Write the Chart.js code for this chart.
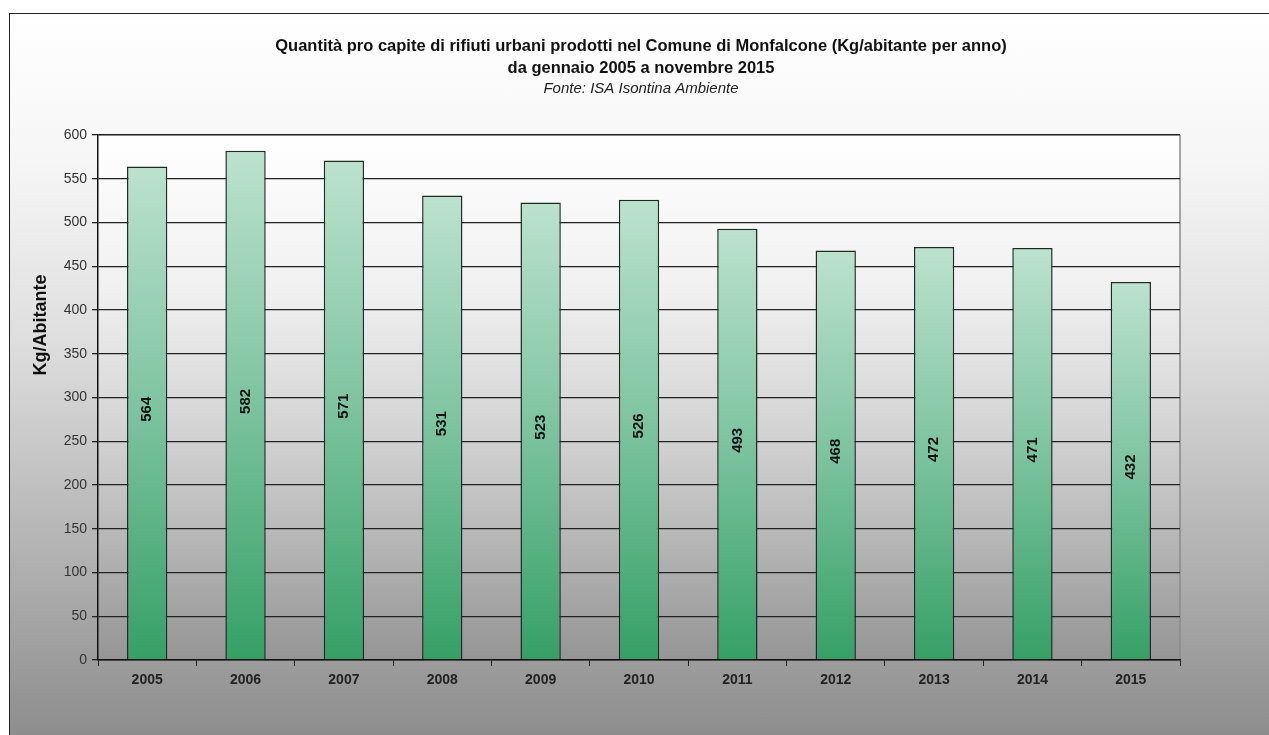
<!DOCTYPE html>
<html><head><meta charset="utf-8">
<script src="https://cdn.jsdelivr.net/npm/chart.js@4.4.1/dist/chart.umd.min.js"></script>
<style>
html,body{margin:0;padding:0;background:#fff;}
#wrap{position:relative;width:1269px;height:735px;overflow:hidden;}
#frame{position:absolute;left:9px;top:13px;width:1270px;height:730px;border:1px solid #222;box-sizing:border-box;
background:linear-gradient(to bottom,#ffffff 0%,#f6f6f6 20%,#dedede 45%,#b8b8b8 70%,#8c8c8c 100%);}
canvas{position:absolute;left:0;top:0;}
</style></head><body>
<div id="wrap"><div id="frame"></div><canvas id="c" width="1269" height="735"></canvas></div>
<script>
const years = ['2005','2006','2007','2008','2009','2010','2011','2012','2013','2014','2015'];
const kgPerInhabitant = [564,582,571,531,523,526,493,468,472,471,432];
const titleLines = ['Quantità pro capite di rifiuti urbani prodotti nel Comune di Monfalcone (Kg/abitante per anno)','da gennaio 2005 a novembre 2015'];
const subtitleText = 'Fonte: ISA Isontina Ambiente';
const yAxisTitle = 'Kg/Abitante';
const FONT = 'Arial, "Liberation Sans", sans-serif';

const plotBg = {
  id:'plotBg',
  beforeDraw(chart){
    const {ctx, chartArea:a} = chart;
    const g = ctx.createLinearGradient(0,a.top,0,a.bottom);
    g.addColorStop(0,'#ffffff'); g.addColorStop(0.3,'#f0f0f0'); g.addColorStop(0.6,'#cfcfcf'); g.addColorStop(1,'#959595');
    ctx.save(); ctx.fillStyle=g; ctx.fillRect(a.left,a.top,a.right-a.left,a.bottom-a.top);
    ctx.strokeStyle='#8a8a8a'; ctx.lineWidth=1.5;
    ctx.beginPath(); ctx.moveTo(a.right,a.top); ctx.lineTo(a.right,a.bottom); ctx.moveTo(a.left,a.top); ctx.lineTo(a.right,a.top); ctx.stroke();
    ctx.restore();
  }
};
const texts = {
  id:'texts',
  afterDatasetsDraw(chart){
    const {ctx} = chart; const meta = chart.getDatasetMeta(0); const ys = chart.scales.y;
    ctx.save(); ctx.fillStyle='#111';
    ctx.textAlign='center'; ctx.textBaseline='middle';
    // titles
    ctx.font='bold 16.5px '+FONT;
    ctx.fillText(titleLines[0],641,46);
    ctx.fillText(titleLines[1],641,68);
    ctx.fillStyle='#222';
    ctx.font='italic 15px '+FONT;
    ctx.fillText(subtitleText,641,89);
    // bar labels
    ctx.fillStyle='#111';
    ctx.font='bold 15px '+FONT;
    meta.data.forEach((bar,i)=>{
      const v = kgPerInhabitant[i];
      ctx.save(); ctx.translate(bar.x, ys.getPixelForValue(v/2)-4); ctx.rotate(-Math.PI/2);
      ctx.fillText(String(v),0,0); ctx.restore();
    });
    // y axis title
    ctx.font='bold 18px '+FONT;
    ctx.translate(41,325); ctx.rotate(-Math.PI/2); ctx.fillText(yAxisTitle,0,0);
    ctx.restore();
  }
};

new Chart(document.getElementById('c'),{
  type:'bar',
  data:{labels:years,datasets:[{
    data:kgPerInhabitant,
    backgroundColor(ctx){
      const ch = ctx.chart; const ys = ch.scales.y;
      if(!ys || !ch.chartArea) return '#7cc29e';
      const v = ctx.parsed ? ctx.parsed.y : ctx.raw;
      const top = ys.getPixelForValue(v), bot = ys.getPixelForValue(0);
      const g = ch.ctx.createLinearGradient(0,top,0,bot);
      g.addColorStop(0,'#bce2cf'); g.addColorStop(0.5,'#7cc39f'); g.addColorStop(1,'#35a066');
      return g;
    },
    borderColor:'#1e2a22', borderWidth:1.5, borderSkipped:'bottom',
    barPercentage:0.41, categoryPercentage:1
  }]},
  options:{
    responsive:false, animation:false,
    layout:{padding:{left:0,right:89,top:135,bottom:0}},
    plugins:{legend:{display:false}, tooltip:{enabled:false}, title:{display:false}},
    scales:{
      x:{
        grid:{display:true,drawOnChartArea:false,offset:true,color:'#222',tickLength:6},
        border:{color:'#111',width:1.5},
        ticks:{color:'#222',font:{family:FONT,size:14,weight:'bold'},padding:6},
        afterFit(s){s.height=75;}
      },
      y:{
        min:0,max:600,
        ticks:{stepSize:50,color:'#333',font:{family:FONT,size:14},padding:5},
        grid:{color:'#222',lineWidth:1.3,tickLength:6},
        border:{color:'#111',width:1.5},
        afterFit(s){s.width=98;}
      }
    }
  },
  plugins:[plotBg,texts]
});
</script>
</body></html>
